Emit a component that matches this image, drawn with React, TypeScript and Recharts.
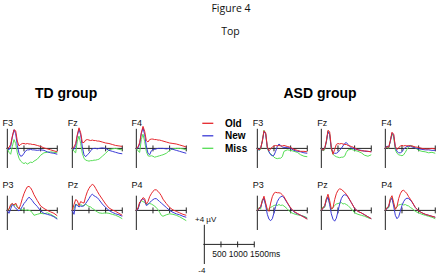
import React from 'react';
import { LineChart, Line, XAxis, YAxis, ReferenceLine } from 'recharts';

// sample times (ms after stimulus onset)
const times = [0, 50, 100, 150, 200, 250, 300, 350, 400, 450, 500, 550, 600, 650, 700, 750, 800, 900, 1000, 1100, 1200, 1300, 1400, 1500];

// TD group, amplitudes in µV
const tdF3Old = [0, 0.2, 0.8, 2.5, 3.8, 3.6, 1.5, 0.5, 0.8, 1.0, 1.0, 0.9, 1.0, 0.9, 0.9, 0.8, 0.8, 0.6, 0.4, 0.1, -0.1, -0.3, -0.5, -0.7];
const tdF3New = [0, -0.3, 0.4, 2.3, 3.8, 3.0, 0.6, -1.0, -1.6, -1.5, -1.0, -0.5, -0.3, -0.3, -0.2, -0.3, -0.3, -0.4, -0.3, -0.4, -0.7, -0.9, -1.0, -1.2];
const tdF3Miss = [0, -0.8, -1.2, 0.4, 1.8, 1.0, -0.9, -2.0, -2.6, -2.9, -3.1, -2.9, -3.2, -3.0, -2.8, -2.9, -2.6, -2.2, -1.4, -0.9, -0.8, -0.7, -0.8, -0.9];

const tdFzOld = [0, 0.3, 1.0, 2.8, 4.2, 3.2, 1.2, 1.2, 1.7, 1.8, 1.7, 1.6, 1.7, 1.6, 1.6, 1.5, 1.5, 1.3, 1.1, 1.0, 0.8, 0.6, 0.5, 0.4];
const tdFzNew = [0, -0.2, 0.6, 2.6, 3.9, 2.8, 0.3, -1.3, -1.7, -1.3, -1.0, -0.5, -0.1, 0.0, 0.0, -0.1, 0.0, 0.1, 0.0, -0.4, -0.6, -0.8, -1.0, -1.1];
const tdFzMiss = [0, -0.6, -0.9, 1.5, 2.5, 1.0, -1.0, -2.0, -2.4, -2.5, -2.6, -2.5, -2.5, -2.4, -2.4, -2.3, -2.2, -1.6, -1.0, -0.3, -0.1, 0.0, -0.2, -0.3];

const tdF4Old = [0, 0.3, 1.2, 3.2, 4.5, 3.5, 1.6, 1.3, 1.8, 1.9, 1.9, 1.8, 1.8, 1.7, 1.7, 1.6, 1.5, 1.3, 1.1, 1.0, 0.9, 0.7, 0.5, 0.3];
const tdF4New = [0, 0.1, 0.9, 3.0, 4.2, 2.8, 0.5, -1.0, -1.3, -0.5, -0.2, -0.2, -0.1, 0.0, 0.0, 0.0, 0.0, -0.1, 0.0, -0.2, -0.4, -0.6, -0.8, -1.0];
const tdF4Miss = [0, -0.5, -0.8, 1.8, 2.9, 1.4, -0.6, -1.5, -1.6, -1.5, -1.6, -1.8, -1.7, -1.6, -1.5, -1.4, -1.3, -1.0, -0.4, -0.1, 0.0, 0.0, -0.1, -0.3];

const tdP3Old = [0, 0.3, 1.2, 1.4, 1.1, 1.5, 0.8, 0.3, 1.2, 2.4, 3.4, 4.2, 4.8, 4.9, 4.6, 4.0, 3.2, 2.0, 0.9, 0.4, 0.0, -0.3, -0.6, -1.1];
const tdP3New = [0, -0.6, 0.3, 1.2, 0.8, 0.5, 0.1, -0.1, 0.2, 0.8, 1.4, 1.8, 2.3, 2.7, 2.4, 2.0, 1.5, 0.8, -0.1, -0.6, -0.8, -1.0, -1.3, -1.8];
const tdP3Miss = [0, 0.2, 0.9, 1.4, 1.0, 1.2, 0.6, 0.4, 0.3, 0.1, 0.2, 0.0, 0.1, 0.0, -0.1, -0.5, -1.0, -0.8, -0.6, -0.7, -0.5, -0.8, -1.2, -1.6];

const tdPzOld = [0, 1.2, 2.2, 2.0, 1.0, 1.8, 1.6, 1.5, 2.8, 3.8, 4.5, 5.0, 5.3, 5.1, 4.5, 3.9, 3.3, 2.3, 1.3, 0.5, 0.1, -0.2, -0.6, -1.0];
const tdPzNew = [0, -0.8, 1.2, 1.0, 0.7, 0.9, 0.8, 1.0, 1.4, 1.9, 2.4, 3.0, 3.3, 3.0, 2.8, 2.6, 2.2, 1.3, 0.6, 0.0, -0.4, -0.7, -0.9, -1.2];
const tdPzMiss = [0, 0.4, 1.3, 1.1, 0.8, 1.2, 1.0, 0.9, 1.3, 1.0, 0.8, 0.7, 0.4, 0.2, -0.1, -0.3, -0.5, -0.6, -0.5, -0.6, -0.8, -1.0, -1.3, -1.7];

const tdP4Old = [0, 0.5, 1.7, 2.0, 2.6, 2.4, 1.3, 1.8, 2.8, 3.4, 3.9, 4.2, 4.2, 3.9, 3.5, 3.0, 2.3, 1.4, 0.6, 0.1, -0.2, -0.5, -0.8, -1.0];
const tdP4New = [0, 0.2, 1.4, 2.2, 2.4, 2.0, 1.0, 1.2, 1.6, 1.9, 2.2, 2.4, 2.4, 2.1, 1.8, 1.5, 1.2, 0.6, 0.0, -0.4, -0.7, -0.9, -1.2, -1.4];
const tdP4Miss = [0, 0.3, 1.4, 2.0, 1.8, 1.6, 1.2, 1.3, 1.4, 1.3, 1.1, 0.9, 0.5, 0.2, -0.4, -1.0, -1.2, -0.9, -0.7, -0.8, -1.0, -1.3, -1.7, -2.1];

// ASD group
const asdF3Old = [0, -0.3, 0.0, 1.5, 3.6, 3.2, 0.3, -0.5, -0.1, 0.3, 0.5, 0.6, 0.5, 0.6, 0.5, 0.5, 0.6, 0.4, 0.2, -0.2, -0.4, -0.6, -0.6, -0.7];
const asdF3New = [0, -0.4, 0.1, 1.4, 3.4, 3.0, 0.2, -0.7, -1.3, -1.5, -1.4, -0.6, 0.4, 0.9, 0.6, 0.3, 0.2, 0.2, 0.0, -0.4, -0.6, -0.7, -0.9, -1.0];
const asdF3Miss = [0, -0.4, -0.2, 1.6, 3.7, 3.0, 0.0, -0.8, -1.1, -1.4, -1.8, -2.0, -2.1, -2.0, -2.0, -1.7, -0.6, -0.3, -0.4, -0.6, -0.8, -1.3, -1.6, -1.7];

const asdFzOld = [0, -0.4, 0.0, 1.5, 3.7, 3.4, 0.2, -1.2, -0.2, 0.8, 1.0, 0.9, 1.0, 0.9, 0.8, 0.8, 0.6, 0.4, 0.1, -0.3, -0.5, -0.5, -0.6, -0.7];
const asdFzNew = [0, -0.4, 0.0, 1.3, 3.4, 2.8, 0.0, -0.8, -1.0, -1.0, -0.8, -0.4, 0.0, 0.5, 1.0, 1.2, 0.8, 0.1, -0.1, -0.3, -0.4, -0.6, -0.6, -0.7];
const asdFzMiss = [0, -0.5, -0.3, 1.3, 3.5, 2.9, -0.2, -1.2, -1.5, -1.7, -1.8, -1.9, -1.8, -1.8, -1.6, -0.8, -0.3, -0.2, -0.4, -0.6, -0.9, -1.4, -1.6, -1.3];

const asdF4Old = [0, 0.4, 0.2, 1.6, 3.3, 2.9, 0.4, -0.2, 0.1, 0.5, 0.6, 0.5, 0.6, 0.5, 0.6, 0.5, 0.5, 0.3, 0.2, 0.0, -0.1, -0.1, 0.0, -0.1];
const asdF4New = [0, 0.5, 0.2, 1.4, 3.1, 2.7, 0.2, -0.6, -0.9, -0.9, -0.7, -0.2, 0.2, 0.4, 0.4, 0.5, 0.3, 0.1, -0.1, -0.2, -0.3, -0.3, -0.4, -0.4];
const asdF4Miss = [0, 0.3, 0.0, 1.5, 3.0, 2.3, -0.3, -1.0, -1.3, -1.4, -1.5, -1.3, -0.8, -0.2, 0.3, 0.6, 0.5, 0.1, -0.4, -0.6, -0.7, -0.9, -0.8, -1.0];

const asdP3Old = [0, 0.4, 0.8, 2.0, 2.9, 1.5, 0.2, -0.2, 1.5, 2.8, 3.5, 3.7, 3.6, 3.6, 3.5, 3.2, 2.8, 1.6, 0.5, -0.2, -0.6, -1.0, -1.4, -1.8];
const asdP3New = [0, 0.3, 0.6, 1.8, 2.5, 1.0, -0.8, -1.8, -2.1, -1.7, -0.5, 0.8, 1.8, 2.4, 2.8, 2.9, 2.6, 1.5, 0.4, -0.3, -0.7, -1.0, -1.3, -1.7];
const asdP3Miss = [0, 0.6, 0.3, 2.2, 2.4, 1.2, 0.0, 0.4, 0.6, 0.8, 1.0, 1.1, 1.0, 1.2, 1.0, 1.1, 0.9, 0.3, -0.4, -0.7, -0.9, -1.0, -1.2, -1.5];

const asdPzOld = [0, 0.5, 1.0, 2.3, 3.3, 2.0, 0.3, 0.5, 2.2, 3.4, 4.1, 4.4, 4.3, 4.0, 3.7, 3.3, 2.8, 1.6, 0.4, -0.2, -0.5, -0.9, -1.3, -1.7];
const asdPzNew = [0, 0.4, 0.8, 2.0, 2.7, 1.2, -0.7, -1.8, -2.2, -1.6, -0.2, 1.3, 2.4, 3.0, 3.2, 3.1, 2.7, 1.6, 0.4, -0.2, -0.5, -0.9, -1.3, -1.7];
const asdPzMiss = [0, 0.7, 0.6, 2.4, 2.8, 1.4, 0.2, 0.6, 1.0, 1.3, 1.4, 1.5, 1.6, 1.3, 1.4, 1.2, 1.0, 0.3, -0.5, -0.8, -1.0, -1.2, -1.5, -1.7];

const asdP4Old = [0, 0.5, 0.9, 2.4, 3.0, 1.6, 0.2, 0.8, 2.4, 3.4, 4.0, 4.1, 3.8, 3.4, 2.8, 2.3, 1.8, 0.6, -0.1, -0.5, -0.8, -1.0, -1.2, -1.4];
const asdP4New = [0, 0.4, 0.7, 2.0, 2.5, 0.9, -1.0, -1.7, -1.3, -0.2, 1.0, 1.8, 2.3, 2.5, 2.4, 2.1, 1.7, 0.6, -0.1, -0.5, -0.8, -1.0, -1.2, -1.4];
const asdP4Miss = [0, 0.6, 0.5, 2.3, 2.6, 1.2, 0.3, 0.8, 1.1, 1.2, 1.3, 1.1, 1.2, 1.0, 0.9, 0.6, 0.4, -0.2, -0.5, -0.8, -1.0, -1.2, -1.4, -1.7];

const conditions = ['Old', 'New', 'Miss'];
const timeTicks = [500, 1000, 1500];
const scaleUv = 4;

const COLORS = { old: '#e5262c', new: '#3a3ad6', miss: '#55dd55' };
const AXIS = '#222';

// pixel scale shared by every panel and the calibration bar
const PX_MS = 0.0333;
const PX_UV = 4.9;
const T0 = -100;
const T1 = 1600;
const Y0 = -5.5;
const Y1 = 6;
const W = (T1 - T0) * PX_MS;
const H = (Y1 - Y0) * PX_UV;

const tdCols = [7, 72.3, 136];
const asdCols = [257.3, 321.7, 385.7];
const rowZero = [148.3, 210];
const rowAxisTop = [4, 3];

const panels = [
  { name: 'F3', x: tdCols[0], row: 0, old: tdF3Old, neu: tdF3New, miss: tdF3Miss },
  { name: 'Fz', x: tdCols[1], row: 0, old: tdFzOld, neu: tdFzNew, miss: tdFzMiss },
  { name: 'F4', x: tdCols[2], row: 0, old: tdF4Old, neu: tdF4New, miss: tdF4Miss },
  { name: 'P3', x: tdCols[0], row: 1, old: tdP3Old, neu: tdP3New, miss: tdP3Miss },
  { name: 'Pz', x: tdCols[1], row: 1, old: tdPzOld, neu: tdPzNew, miss: tdPzMiss },
  { name: 'P4', x: tdCols[2], row: 1, old: tdP4Old, neu: tdP4New, miss: tdP4Miss },
  { name: 'F3', x: asdCols[0], row: 0, old: asdF3Old, neu: asdF3New, miss: asdF3Miss },
  { name: 'Fz', x: asdCols[1], row: 0, old: asdFzOld, neu: asdFzNew, miss: asdFzMiss },
  { name: 'F4', x: asdCols[2], row: 0, old: asdF4Old, neu: asdF4New, miss: asdF4Miss },
  { name: 'P3', x: asdCols[0], row: 1, old: asdP3Old, neu: asdP3New, miss: asdP3Miss },
  { name: 'Pz', x: asdCols[1], row: 1, old: asdPzOld, neu: asdPzNew, miss: asdPzMiss },
  { name: 'P4', x: asdCols[2], row: 1, old: asdP4Old, neu: asdP4New, miss: asdP4Miss },
];

const SANS = '"Liberation Sans", Arial, Helvetica, sans-serif';

function Axes({ top, bottom }: { top: number; bottom: number }) {
  return (
    <>
      <XAxis dataKey="t" type="number" domain={[T0, T1]} hide allowDataOverflow />
      <YAxis type="number" domain={[Y0, Y1]} hide allowDataOverflow />
      <ReferenceLine segment={[{ x: 0, y: bottom }, { x: 0, y: top }]} stroke={AXIS} strokeWidth={1} />
      <ReferenceLine segment={[{ x: -30, y: 0 }, { x: 1500, y: 0 }]} stroke={AXIS} strokeWidth={1} />
      {timeTicks.map((t) => (
        <ReferenceLine key={t} segment={[{ x: t, y: -0.6 }, { x: t, y: 0.6 }]} stroke={AXIS} strokeWidth={1} />
      ))}
    </>
  );
}

function Panel({ p }: { p: (typeof panels)[number] }) {
  const data = times.map((t, i) => ({ t, old: p.old[i], neu: p.neu[i], miss: p.miss[i] }));
  const zero = rowZero[p.row];
  return (
    <div style={{ position: 'absolute', left: p.x + T0 * PX_MS, top: zero - Y1 * PX_UV }}>
      <LineChart width={W} height={H} data={data} margin={{ top: 0, right: 0, bottom: 0, left: 0 }}>
        {Axes({ top: rowAxisTop[p.row], bottom: -4 })}
        <Line dataKey="miss" stroke={COLORS.miss} strokeWidth={1} dot={false} isAnimationActive={false} />
        <Line dataKey="neu" stroke={COLORS.new} strokeWidth={1} dot={false} isAnimationActive={false} />
        <Line dataKey="old" stroke={COLORS.old} strokeWidth={1} dot={false} isAnimationActive={false} />
      </LineChart>
    </div>
  );
}

// calibration bar: ±4 µV and 0–1500 ms
function ScaleBar() {
  const data = timeTicks.map((t) => ({ t }));
  const x0 = 204;
  const y0 = 244.3;
  return (
    <div style={{ position: 'absolute', left: x0 + T0 * PX_MS, top: y0 - Y1 * PX_UV }}>
      <LineChart width={W} height={H} data={data} margin={{ top: 0, right: 0, bottom: 0, left: 0 }}>
        {Axes({ top: scaleUv, bottom: -scaleUv })}
      </LineChart>
    </div>
  );
}

export default function App() {
  const legendColors = [COLORS.old, COLORS.new, COLORS.miss];
  const legendY = [123.3, 135.8, 148.3];
  return (
    <div style={{ position: 'absolute', left: 0, top: 0, width: 442, height: 280, background: '#fff', overflow: 'hidden' }}>
      <svg width={442} height={280} style={{ position: 'absolute', left: 0, top: 0 }}>
        <text x={231} y={11.5} textAnchor="middle" fontFamily='"Open Sans", sans-serif' fontSize={10.5} fill="#111">Figure 4</text>
        <text x={230.5} y={34.5} textAnchor="middle" fontFamily='"Open Sans", sans-serif' fontSize={10.5} fill="#111">Top</text>
        <text x={35} y={97.5} fontFamily={SANS} fontSize={14} fontWeight="bold" fill="#000">TD group</text>
        <text x={283.5} y={97.5} fontFamily={SANS} fontSize={14} fontWeight="bold" fill="#000">ASD group</text>
        {panels.map((p, i) => (
          <text key={i} x={p.x - 4.5} y={rowZero[p.row] - 22} fontFamily={SANS} fontSize={9} fill="#111">{p.name}</text>
        ))}
        {conditions.map((c, i) => (
          <g key={c}>
            <line x1={202.3} x2={213.3} y1={legendY[i]} y2={legendY[i]} stroke={legendColors[i]} strokeWidth={1.3} />
            <text x={225} y={legendY[i] + 3.6} fontFamily={SANS} fontSize={10} fontWeight="bold" fill="#000">{c}</text>
          </g>
        ))}
        <text x={195} y={221.7} fontFamily={SANS} fontSize={8} fill="#111">+4 µV</text>
        <text x={212.3} y={256.5} fontFamily={SANS} fontSize={8.5} fill="#111">500 1000 1500ms</text>
        <text x={198.3} y={273} fontFamily={SANS} fontSize={8} fill="#111">-4</text>
      </svg>
      {panels.map((p, i) => (
        <Panel key={i} p={p} />
      ))}
      <ScaleBar />
    </div>
  );
}
